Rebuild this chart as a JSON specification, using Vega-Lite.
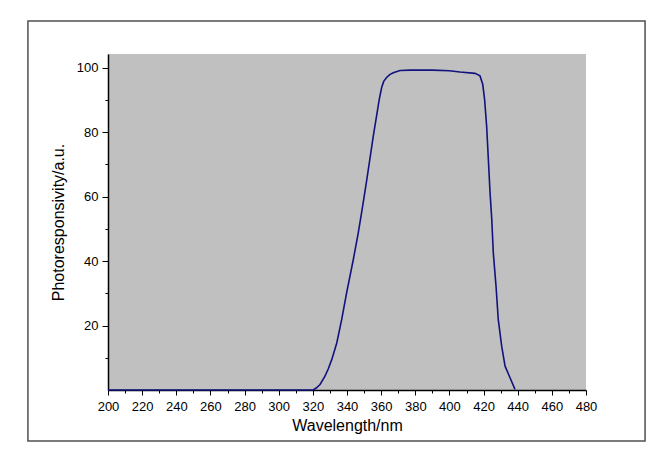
{
  "$schema": "https://vega.github.io/schema/vega-lite/v6.json",
  "width": 478,
  "height": 336,
  "autosize": "none",
  "padding": {"left": 108, "top": 54, "right": 77, "bottom": 63},
  "background": "white",
  "config": {
    "view": {"fill": "#C0C0C0", "stroke": null},
    "font": "Liberation Sans",
    "axis": {
      "domainColor": "#000000",
      "domainWidth": 1.5,
      "tickColor": "#000000",
      "tickWidth": 1,
      "labelColor": "#000000",
      "labelFont": "Liberation Sans",
      "labelFontSize": 13,
      "labelFlush": false,
      "labelOverlap": false,
      "titleColor": "#000000",
      "titleFont": "Liberation Sans",
      "titleFontSize": 16,
      "titleFontWeight": "normal",
      "grid": false
    }
  },
  "datasets": {
    "curve": [
      {"wavelength": 200, "resp": 0},
      {"wavelength": 250, "resp": 0},
      {"wavelength": 300, "resp": 0},
      {"wavelength": 319, "resp": 0},
      {"wavelength": 320.3, "resp": 0.1},
      {"wavelength": 322, "resp": 0.6},
      {"wavelength": 324.2, "resp": 1.7},
      {"wavelength": 327.1, "resp": 4.3},
      {"wavelength": 329, "resp": 6.5},
      {"wavelength": 331.1, "resp": 9.5},
      {"wavelength": 334, "resp": 14.6},
      {"wavelength": 336.9, "resp": 21.9},
      {"wavelength": 339.8, "resp": 30.2},
      {"wavelength": 343.7, "resp": 40.5},
      {"wavelength": 346.6, "resp": 48.8},
      {"wavelength": 349, "resp": 56.5},
      {"wavelength": 351.6, "resp": 65.3},
      {"wavelength": 355.4, "resp": 78.8},
      {"wavelength": 358.9, "resp": 90.2},
      {"wavelength": 360.3, "resp": 93.9},
      {"wavelength": 361.5, "resp": 95.8},
      {"wavelength": 363.2, "resp": 97.0},
      {"wavelength": 365, "resp": 97.9},
      {"wavelength": 367.1, "resp": 98.5},
      {"wavelength": 371.1, "resp": 99.2},
      {"wavelength": 377, "resp": 99.3},
      {"wavelength": 390, "resp": 99.3},
      {"wavelength": 400, "resp": 99.1},
      {"wavelength": 406.2, "resp": 98.7},
      {"wavelength": 415, "resp": 98.3},
      {"wavelength": 417.9, "resp": 97.5},
      {"wavelength": 419.5, "resp": 94.9},
      {"wavelength": 420.6, "resp": 90.2},
      {"wavelength": 421.8, "resp": 81.9},
      {"wavelength": 422.8, "resp": 71.6},
      {"wavelength": 423.8, "resp": 61.2},
      {"wavelength": 424.8, "resp": 53.0},
      {"wavelength": 425.7, "resp": 42.6},
      {"wavelength": 427.3, "resp": 32.2},
      {"wavelength": 428.6, "resp": 21.9},
      {"wavelength": 430.6, "resp": 13.6},
      {"wavelength": 432.6, "resp": 7.4},
      {"wavelength": 435.5, "resp": 3.8},
      {"wavelength": 438.4, "resp": 0.2}
    ]
  },
  "resolve": {"axis": {"x": "independent", "y": "independent"}},
  "layer": [
    {
      "data": {"values": [{}]},
      "mark": {"type": "rect", "fillOpacity": 0, "stroke": "#505050", "strokeWidth": 1.5, "clip": false},
      "encoding": {
        "x": {
          "datum": 153.1,
          "type": "quantitative",
          "scale": {"domain": [200, 480], "nice": false, "zero": false},
          "axis": {
            "orient": "bottom",
            "values": [210, 230, 250, 270, 290, 310, 330, 350, 370, 390, 410, 430, 450, 470],
            "labels": false,
            "domain": false,
            "tickSize": 3,
            "title": null
          }
        },
        "x2": {"datum": 514.6},
        "y": {
          "datum": 114.54,
          "type": "quantitative",
          "scale": {"domain": [0, 104.3], "nice": false, "zero": false},
          "axis": {
            "orient": "left",
            "values": [10, 30, 50, 70, 90],
            "labels": false,
            "domain": false,
            "tickSize": 3,
            "title": null
          }
        },
        "y2": {"datum": -15.83}
      }
    },
    {
      "data": {"name": "curve"},
      "mark": {"type": "line", "color": "#12127f", "strokeWidth": 1.6},
      "encoding": {
        "x": {
          "field": "wavelength",
          "type": "quantitative",
          "scale": {"domain": [200, 480], "nice": false, "zero": false},
          "axis": {
            "orient": "bottom",
            "values": [200, 220, 240, 260, 280, 300, 320, 340, 360, 380, 400, 420, 440, 460, 480],
            "tickSize": 5,
            "labelPadding": 5,
            "title": "Wavelength/nm",
            "titlePadding": 4
          }
        },
        "y": {
          "field": "resp",
          "type": "quantitative",
          "scale": {"domain": [0, 104.3], "nice": false, "zero": false},
          "axis": {
            "orient": "left",
            "values": [20, 40, 60, 80, 100],
            "tickSize": 6,
            "labelPadding": 4,
            "title": "Photoresponsivity/a.u.",
            "titlePadding": 10
          }
        }
      }
    }
  ]
}
